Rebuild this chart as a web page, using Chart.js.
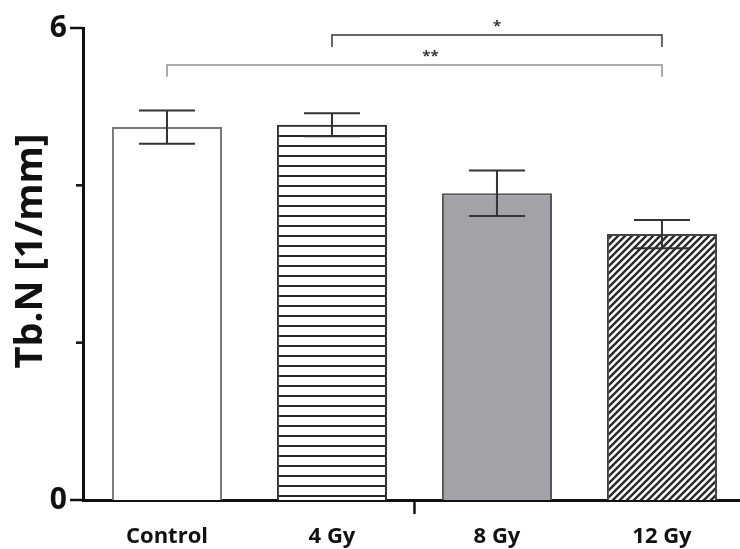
<!DOCTYPE html>
<html>
<head>
<meta charset="utf-8">
<script src="https://cdn.jsdelivr.net/npm/chart.js@4"></script>
<style>
  body { margin: 0; background: #fff; }
  #wrap { width: 740px; height: 549px; position: relative; }
</style>
</head>
<body>
<div id="wrap"><canvas id="tbnChart"></canvas></div>
<script>
// --- Data ---
const categories = ["Control", "4 Gy", "8 Gy", "12 Gy"];
const tbnMeans = [4.74, 4.77, 3.90, 3.38];
const tbnErrors = [0.21, 0.145, 0.29, 0.18];
const yTicks = [0, 2, 4, 6];
const yTickLabels = { 0: "0", 6: "6" };
// significance brackets: from / to are bar indexes, level is the y value of the line
const sigFrom = [1, 0];
const sigTo = [3, 3];
const sigLevel = [5.91, 5.53];
const sigLabel = ["*", "**"];

// --- Fill patterns ---
function stripePattern() {
    const c = document.createElement("canvas");
    c.width = 10; c.height = 10;
    const g = c.getContext("2d");
    g.fillStyle = "#fff";
    g.fillRect(0, 0, 10, 10);
    g.fillStyle = "#2a2a2a";
    g.fillRect(0, 5, 10, 2);
    return g.createPattern(c, "repeat");
}

function hatchPattern() {
    const s = 7;
    const c = document.createElement("canvas");
    c.width = s; c.height = s;
    const g = c.getContext("2d");
    g.fillStyle = "#fff";
    g.fillRect(0, 0, s, s);
    g.strokeStyle = "#2a2a2a";
    g.lineWidth = 2.4;
    g.beginPath();
    g.moveTo(-1, s + 1); g.lineTo(s + 1, -1);
    g.moveTo(-2, 2); g.lineTo(2, -2);
    g.moveTo(s - 2, s + 2); g.lineTo(s + 2, s - 2);
    g.stroke();
    return g.createPattern(c, "repeat");
}

// --- Plugins ---
const errorBars = {
    id: "errorBars",
    afterDatasetsDraw(chart) {
        const ctx = chart.ctx;
        const y = chart.scales.y;
        const meta = chart.getDatasetMeta(0);
        ctx.save();
        ctx.strokeStyle = "#333";
        ctx.lineWidth = 2;
        meta.data.forEach((bar, i) => {
            const top = y.getPixelForValue(tbnMeans[i] + tbnErrors[i]);
            const bot = y.getPixelForValue(tbnMeans[i] - tbnErrors[i]);
            ctx.beginPath();
            ctx.moveTo(bar.x, top); ctx.lineTo(bar.x, bot);
            ctx.moveTo(bar.x - 28, top); ctx.lineTo(bar.x + 28, top);
            ctx.moveTo(bar.x - 28, bot); ctx.lineTo(bar.x + 28, bot);
            ctx.stroke();
        });
        ctx.restore();
    }
};

const axisDecor = {
    id: "axisDecor",
    afterDraw(chart) {
        const ctx = chart.ctx;
        const x = chart.scales.x;
        const y = chart.scales.y;
        const area = chart.chartArea;
        ctx.save();
        ctx.strokeStyle = "#111";
        ctx.lineWidth = 2.5;
        // y ticks: long at labelled values, short otherwise
        yTicks.forEach(v => {
            const py = y.getPixelForValue(v);
            const len = yTickLabels[v] ? 13 : 7;
            ctx.beginPath();
            ctx.moveTo(area.left - len, py);
            ctx.lineTo(area.left, py);
            ctx.stroke();
        });
        // single tick under the x axis between 4 Gy and 8 Gy
        const mx = x.getPixelForValue(1.5);
        ctx.beginPath();
        ctx.moveTo(mx, area.bottom);
        ctx.lineTo(mx, area.bottom + 14);
        ctx.stroke();

        // y axis title
        ctx.fillStyle = "#111";
        ctx.font = "bold 38px 'Open Sans'";
        ctx.textAlign = "center";
        ctx.textBaseline = "middle";
        ctx.translate(31, 251);
        ctx.rotate(-Math.PI / 2);
        ctx.fillText("Tb.N [1/mm]", 0, 0);
        ctx.restore();

        // significance brackets
        ctx.save();
        const colors = ["#666", "#aaa"];
        sigLabel.forEach((lab, i) => {
            const x1 = x.getPixelForValue(sigFrom[i]);
            const x2 = x.getPixelForValue(sigTo[i]);
            const ly = y.getPixelForValue(sigLevel[i]);
            const ey = y.getPixelForValue(sigLevel[i] - 0.15);
            ctx.strokeStyle = colors[i];
            ctx.lineWidth = 2;
            ctx.beginPath();
            ctx.moveTo(x1, ey); ctx.lineTo(x1, ly);
            ctx.lineTo(x2, ly); ctx.lineTo(x2, ey);
            ctx.stroke();
            ctx.fillStyle = "#333";
            ctx.font = "bold 15px 'Open Sans'";
            ctx.textAlign = "center";
            ctx.textBaseline = "middle";
            ctx.fillText(lab, (x1 + x2) / 2 + (i === 1 ? 16 : 0), ly - 8);
        });
        ctx.restore();
    }
};

// --- Chart ---
const ctx = document.getElementById("tbnChart").getContext("2d");
const tbnChart = new Chart(ctx, {
    type: "bar",
    data: {
        datasets: [{
            data: tbnMeans.map((v, i) => ({ x: i, y: v })),
            backgroundColor: ["#ffffff", stripePattern(), "#a3a2a8", hatchPattern()],
            borderColor: ["#777", "#333", "#555", "#444"],
            borderWidth: 2,
            categoryPercentage: 1,
            barPercentage: 0.667
        }]
    },
    options: {
        responsive: true,
        maintainAspectRatio: false,
        animation: false,
        layout: { padding: { top: 28, right: 0, left: 0, bottom: 0 } },
        plugins: {
            legend: { display: false },
            tooltip: { enabled: false }
        },
        scales: {
            x: {
                type: "linear",
                offset: false,
                min: -0.509,
                max: 3.473,
                grid: { display: false, drawTicks: false },
                border: { display: true, color: "#111", width: 3 },
                afterFit: s => { s.height = 49; s.paddingLeft = 0; s.paddingRight = 0; },
                ticks: {
                    stepSize: 1,
                    includeBounds: false,
                    autoSkip: false,
                    maxRotation: 0,
                    padding: 24,
                    color: "#111",
                    font: { family: "'Open Sans'", size: 22, weight: "bold" },
                    callback: v => categories[v] ?? ""
                }
            },
            y: {
                min: 0,
                max: 6,
                grid: { display: false, drawTicks: false },
                border: { display: true, color: "#111", width: 3 },
                afterFit: s => { s.width = 83; s.paddingTop = 0; s.paddingBottom = 0; },
                ticks: {
                    stepSize: 2,
                    padding: 16,
                    color: "#111",
                    font: { family: "'Open Sans'", size: 30, weight: "bold" },
                    callback: v => yTickLabels[v] ?? ""
                }
            }
        }
    },
    plugins: [errorBars, axisDecor]
});
</script>
</body>
</html>
